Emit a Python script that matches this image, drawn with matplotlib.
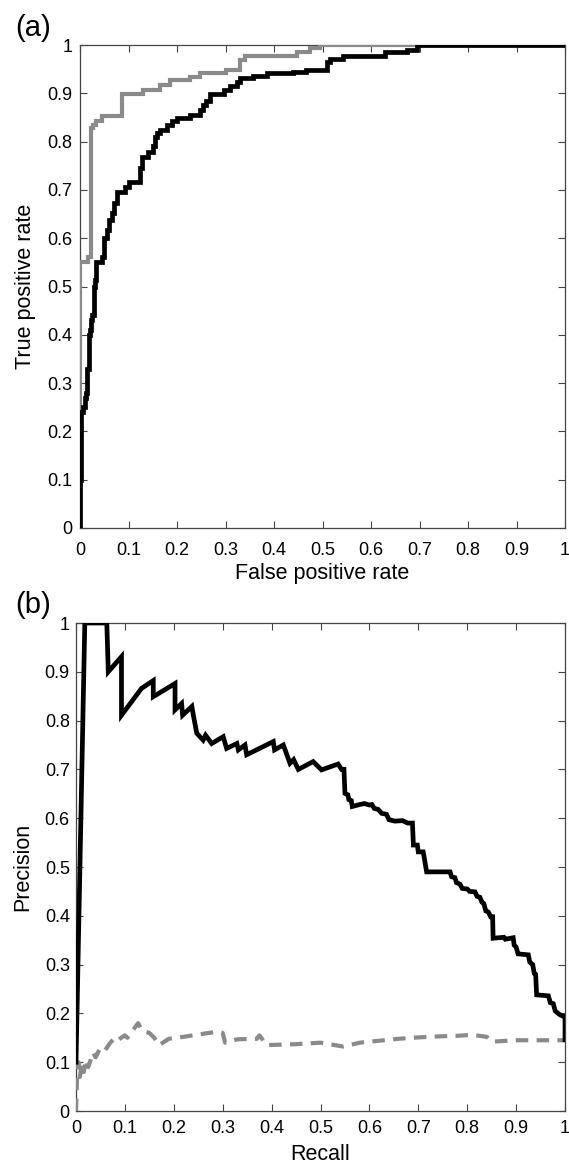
import matplotlib
matplotlib.use("Agg")
import matplotlib.pyplot as plt

plt.rcParams['font.family'] = ['Liberation Sans', 'DejaVu Sans']

# ---- Data: panel (a) ROC (step curves) ----
fpr_gray = [0, 0, 0.017, 0.023, 0.027, 0.033, 0.045, 0.086, 0.13, 0.165, 0.185,
            0.227, 0.247, 0.30, 0.33, 0.34, 0.447, 0.474, 0.495, 1.0]
tpr_gray = [0, 0.551, 0.562, 0.828, 0.835, 0.843, 0.853, 0.898, 0.907, 0.917, 0.928,
            0.934, 0.943, 0.948, 0.969, 0.977, 0.986, 0.993, 1.0, 1.0]

fpr_black = [0, 0, 0.0014, 0.003, 0.007, 0.01, 0.013, 0.015, 0.018, 0.02, 0.022,
             0.025, 0.028, 0.029, 0.031, 0.033, 0.045, 0.05, 0.055, 0.06, 0.065,
             0.07, 0.076, 0.093, 0.1, 0.124, 0.127, 0.141, 0.151, 0.155, 0.158,
             0.165, 0.179, 0.189, 0.2, 0.227, 0.247, 0.254, 0.26, 0.268, 0.296,
             0.309, 0.323, 0.33, 0.357, 0.385, 0.44, 0.467, 0.51, 0.515, 0.543,
             0.629, 0.674, 0.694, 1.0]
tpr_black = [0, 0.1, 0.2, 0.24, 0.25, 0.27, 0.28, 0.33, 0.40, 0.41, 0.43,
             0.44, 0.45, 0.5, 0.513, 0.55, 0.562, 0.6, 0.617, 0.638, 0.652,
             0.672, 0.695, 0.705, 0.717, 0.745, 0.769, 0.779, 0.79, 0.81, 0.817,
             0.825, 0.835, 0.842, 0.848, 0.855, 0.865, 0.875, 0.885, 0.898, 0.907,
             0.915, 0.924, 0.931, 0.935, 0.941, 0.945, 0.948, 0.965, 0.972, 0.977,
             0.986, 0.99, 1.0, 1.0]

# ---- Data: panel (b) precision-recall ----
recall_black = [0, 0.018, 0.063, 0.066, 0.093, 0.093, 0.134, 0.158, 0.158, 0.2025,
                0.2025, 0.216, 0.218, 0.237, 0.24, 0.247, 0.26, 0.265, 0.2775, 0.301,
                0.308, 0.329, 0.332, 0.3456, 0.349, 0.4035, 0.406, 0.424, 0.4376, 0.445,
                0.4546, 0.485, 0.502, 0.536, 0.543, 0.548, 0.55, 0.556, 0.558, 0.563,
                0.565, 0.58, 0.59, 0.6, 0.605, 0.61, 0.618, 0.625, 0.635, 0.64,
                0.652, 0.668, 0.678, 0.688, 0.69, 0.698, 0.70, 0.71, 0.712, 0.717,
                0.765, 0.768, 0.775, 0.778, 0.785, 0.79, 0.80, 0.805, 0.816, 0.82,
                0.826, 0.83, 0.834, 0.838, 0.843, 0.848, 0.852, 0.853, 0.875, 0.878,
                0.894, 0.896, 0.90, 0.904, 0.925, 0.928, 0.934, 0.937, 0.94, 0.942,
                0.966, 0.97, 0.976, 0.98, 0.986, 0.99, 0.997, 1.0, 1.0]
precision_black = [0.1, 1.0, 1.0, 0.9, 0.931, 0.811, 0.866, 0.882, 0.849, 0.876,
                   0.822, 0.835, 0.811, 0.829, 0.811, 0.774, 0.76, 0.77, 0.753, 0.767,
                   0.743, 0.753, 0.74, 0.75, 0.73, 0.757, 0.74, 0.75, 0.7125, 0.72,
                   0.70, 0.716, 0.699, 0.711, 0.70, 0.70, 0.651, 0.648, 0.638, 0.636,
                   0.624, 0.628, 0.63, 0.627, 0.628, 0.62, 0.618, 0.61, 0.608, 0.597,
                   0.594, 0.595, 0.59, 0.59, 0.545, 0.545, 0.531, 0.531, 0.52, 0.49,
                   0.49, 0.48, 0.478, 0.468, 0.465, 0.456, 0.455, 0.45, 0.449, 0.44,
                   0.438, 0.428, 0.425, 0.41, 0.408, 0.398, 0.398, 0.354, 0.356, 0.352,
                   0.355, 0.34, 0.336, 0.322, 0.32, 0.305, 0.30, 0.282, 0.28, 0.238,
                   0.236, 0.222, 0.22, 0.205, 0.20, 0.197, 0.194, 0.194, 0.146]

recall_gray = [0, 0.002, 0.005, 0.008, 0.012, 0.016, 0.02, 0.025, 0.035, 0.04,
               0.05, 0.06, 0.07, 0.08, 0.085, 0.1, 0.105, 0.127, 0.135, 0.15,
               0.16, 0.17, 0.19, 0.22, 0.245, 0.285, 0.3, 0.305, 0.33, 0.37,
               0.375, 0.39, 0.45, 0.5, 0.547, 0.58, 0.62, 0.66, 0.703, 0.744,
               0.778, 0.81, 0.84, 0.85, 0.9, 1.0]
precision_gray = [0.0, 0.065, 0.1, 0.07, 0.1, 0.08, 0.105, 0.09, 0.12, 0.11,
                  0.13, 0.125, 0.14, 0.15, 0.145, 0.155, 0.15, 0.18, 0.165, 0.16,
                  0.15, 0.135, 0.148, 0.152, 0.156, 0.162, 0.16, 0.14, 0.147, 0.148,
                  0.155, 0.135, 0.137, 0.14, 0.132, 0.14, 0.144, 0.148, 0.151, 0.153,
                  0.154, 0.156, 0.152, 0.142, 0.145, 0.145]

tick_vals = [0, 0.1, 0.2, 0.3, 0.4, 0.5, 0.6, 0.7, 0.8, 0.9, 1]
tick_labels = ['0', '0.1', '0.2', '0.3', '0.4', '0.5', '0.6', '0.7', '0.8', '0.9', '1']

W, H = 569, 1167
fig = plt.figure(figsize=(W / 100, H / 100), dpi=100)

ax1 = fig.add_axes([80 / W, 1 - 528 / H, 485 / W, 483 / H])
ax2 = fig.add_axes([76 / W, 1 - 1111 / H, 489 / W, 488 / H])

GRAY = '#8a8a8a'

ax1.plot(fpr_gray, tpr_gray, drawstyle='steps-post', color=GRAY, lw=3.0,
         solid_joinstyle='miter', zorder=3)
ax1.plot(fpr_black, tpr_black, drawstyle='steps-post', color='black', lw=3.4,
         solid_joinstyle='miter', zorder=4)

ax2.plot(recall_gray, precision_gray, color=GRAY, lw=3.0, linestyle=(0, (3.0, 2.0)),
         zorder=3)
ax2.plot(recall_black, precision_black, color='black', lw=3.4,
         solid_joinstyle='miter', zorder=4)

for ax, xpad, ypad in ((ax1, 10, 5.5), (ax2, 6.5, 4.5)):
    ax.set_xlim(0, 1)
    ax.set_ylim(0, 1)
    ax.set_xticks(tick_vals)
    ax.set_xticklabels(tick_labels)
    ax.set_yticks(tick_vals)
    ax.set_yticklabels(tick_labels)
    ax.tick_params(direction='in', length=5, width=0.8, color='#444444',
                   top=True, right=True, labelsize=13, labelcolor='black')
    ax.tick_params(axis='x', pad=xpad)
    ax.tick_params(axis='y', pad=ypad)
    for s in ax.spines.values():
        s.set_color('#444444')
        s.set_linewidth(0.9)

ax1.set_xlabel('False positive rate', fontsize=15.5, va='top')
ax1.xaxis.set_label_coords(0.5, -0.0725)
ax1.set_ylabel('True positive rate', fontsize=15.5, va='center')
ax1.yaxis.set_label_coords(-0.113, 0.5)

ax2.set_xlabel('Recall', fontsize=15.5, va='top')
ax2.xaxis.set_label_coords(0.5, -0.0676)
ax2.set_ylabel('Precision', fontsize=15.5, va='center')
ax2.yaxis.set_label_coords(-0.108, 0.5)

fig.text(15 / W, 1 - 27.5 / H, '(a)', fontsize=21, va='center', ha='left')
fig.text(15 / W, 1 - 605 / H, '(b)', fontsize=21, va='center', ha='left')

fig.savefig('out.png', dpi=100)
